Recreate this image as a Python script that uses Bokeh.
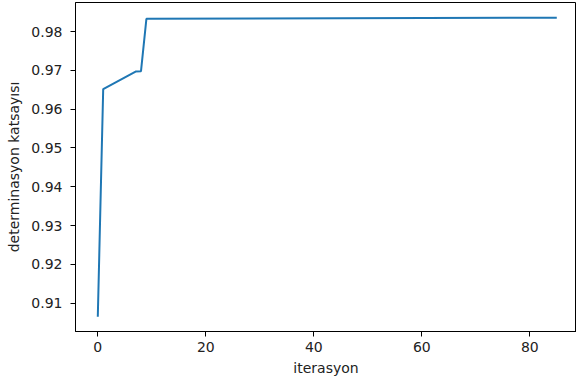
from bokeh.plotting import figure
from bokeh.models import Range1d, FixedTicker, PrintfTickFormatter
from bokeh.embed import file_html
from bokeh.resources import INLINE

iterations = [0, 1, 7, 8, 9, 85]
r2_values = [0.9065, 0.9652, 0.9697, 0.9698, 0.9833, 0.9836]
x_ticks = [0, 20, 40, 60, 80]
y_ticks = [0.91, 0.92, 0.93, 0.94, 0.95, 0.96, 0.97, 0.98]

p = figure(width=576, height=385, output_backend="svg", toolbar_location=None,
           x_range=Range1d(-4.13, 88.65), y_range=Range1d(0.9027, 0.9875),
           min_border_left=75, min_border_right=0, min_border_top=2, min_border_bottom=54)
p.line(iterations, r2_values, line_color="#1f77b4", line_width=2)

p.xgrid.visible = False
p.ygrid.visible = False
p.outline_line_color = "black"
p.outline_line_width = 1
p.background_fill_color = "white"
p.border_fill_color = "white"

p.xaxis.ticker = FixedTicker(ticks=x_ticks)
p.yaxis.ticker = FixedTicker(ticks=y_ticks)
p.yaxis.formatter = PrintfTickFormatter(format="%.2f")
for ax in (p.xaxis, p.yaxis):
    ax.major_tick_out = 5
    ax.major_tick_in = 0
    ax.minor_tick_line_color = None
    ax.axis_line_color = "black"
    ax.major_tick_line_color = "black"
    ax.major_label_text_font = "DejaVu Sans"
    ax.major_label_text_font_size = "14px"
    ax.major_label_text_color = "#222222"
    ax.axis_label_text_font = "DejaVu Sans"
    ax.axis_label_text_font_size = "14px"
    ax.axis_label_text_font_style = "normal"
    ax.axis_label_text_color = "#222222"
    ax.major_label_standoff = 5
    ax.axis_label_standoff = 5
p.yaxis.major_label_standoff = 8
p.yaxis.axis_label_standoff = 6

p.xaxis.axis_label = "iterasyon"
p.yaxis.axis_label = "determinasyon katsayısı"

open("out.html", "w").write(file_html(p, INLINE))
